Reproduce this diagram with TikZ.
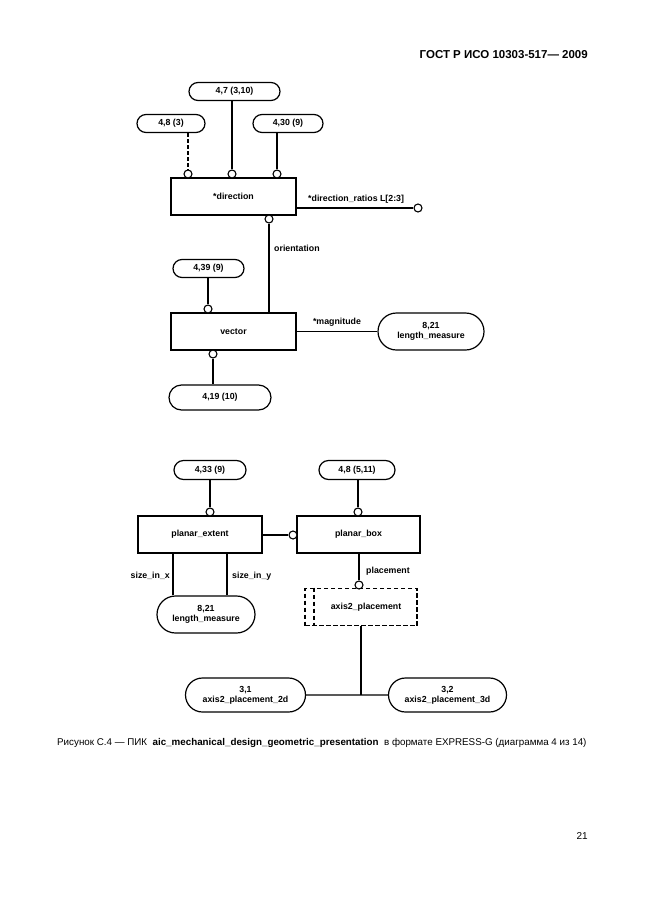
\documentclass[tikz,border=0pt]{standalone}
\usepackage{fontspec}
\setmainfont{Liberation Sans}
\usetikzlibrary{shapes.misc}

\begin{document}
\begin{tikzpicture}[x=1pt,y=-1pt,
        txt/.style={font=\fontsize{8.8}{10}\selectfont\bfseries},
        ent/.style={txt, draw, line width=1.2pt, minimum width=125pt, minimum height=37pt},
        ref/.style={txt, draw, rounded rectangle, line width=1.2pt, minimum height=18pt, inner sep=1pt, align=center},
        ring/.style={circle, draw, fill=white, line width=1.1pt, inner sep=0pt, minimum size=8pt},
        lbl/.style={txt, inner sep=1pt},
        rel/.style={line width=1.3pt},
        fat/.style={line width=2.6pt}]
    \useasboundingbox (0,0) rectangle (646,913);

    \node[font=\fontsize{11.5}{13}\selectfont\bfseries, anchor=east, inner sep=0pt] (head) at (588,55) {ГОСТ Р ИСО 10303-517— 2009};

    % direction and vector
    \node[ref, minimum width=93pt] (r47) at (234.5,91.5) {4,7 (3,10)};
    \node[ref, minimum width=70pt] (r48) at (171,123.5) {4,8 (3)};
    \node[ref, minimum width=72pt] (r430) at (288,123.5) {4,30 (9)};
    \node[ent] (dir) at (233.5,196.5) {*direction};
    \node[ring] (d1) at (188,174) {};
    \node[ring] (d2) at (232,174) {};
    \node[ring] (d3) at (277,174) {};
    \draw[rel, dash pattern=on 4pt off 2pt] (r48.south -| d1) -- (d1);
    \draw[rel] (r47.south -| d2) -- (d2);
    \draw[fat] (r430.south -| d3) -- (d3);
    \node[ring] (dr) at (418,208) {};
    \draw[rel] (dir.east |- dr) -- (dr);
    \node[lbl, anchor=south west] (drl) at (307,205) {*direction\_ratios L[2:3]};

    \node[ref, minimum width=73pt] (r439) at (208.5,268.5) {4,39 (9)};
    \node[ent] (vec) at (233.5,331.5) {vector};
    \node[ring] (d4) at (269,219) {};
    \draw[rel] (d4) -- (d4 |- vec.north);
    \node[lbl, anchor=west] (orl) at (273,248) {orientation};
    \node[ring] (v1) at (208,309) {};
    \draw[fat] (r439.south -| v1) -- (v1);
    \node[ref, minimum width=108pt, minimum height=37pt] (lm1) at (431,331.5) {8,21\\length\_measure};
    \draw[rel] (vec) -- (lm1) node[lbl, midway, above=3pt] (mgl) {*magnitude};
    \node[ring] (v2) at (213,354) {};
    \node[ref, minimum width=104pt, minimum height=25pt] (r419) at (220,397.5) {4,19 (10)};
    \draw[rel] (v2) -- (v2 |- r419.north);

    % planar_extent and planar_box
    \node[ref, minimum width=74pt, minimum height=19pt] (r433) at (210,470) {4,33 (9)};
    \node[ref, minimum width=78pt, minimum height=19pt] (r48b) at (357,470) {4,8 (5,11)};
    \node[ent, minimum width=124pt] (pe) at (200,534.5) {planar\_extent};
    \node[ent, minimum width=123pt] (pb) at (358.5,534.5) {planar\_box};
    \node[ring] (e1) at (210,512) {};
    \draw[fat] (r433.south -| e1) -- (e1);
    \node[ring] (b1) at (358,512) {};
    \draw[fat] (r48b.south -| b1) -- (b1);
    \node[ring] (b2) at (293,535) {};
    \draw[fat] (pe.east |- b2) -- (b2);
    \node[ref, minimum width=100pt, minimum height=37pt] (lm2) at (206,614.5) {8,21\\length\_measure};
    \coordinate (sx) at (173,553);
    \coordinate (sy) at (227,553);
    \draw[rel] (sx) -- (sx |- lm2.north);
    \draw[rel] (sy) -- (sy |- lm2.north);
    \node[lbl, anchor=east] (sxl) at (171,576) {size\_in\_x};
    \node[lbl, anchor=west] (syl) at (231,576) {size\_in\_y};
    \node[ring] (b3) at (359,585) {};
    \draw[rel] (pb.south -| b3) -- (b3);
    \node[lbl, anchor=west] (pll) at (365,571) {placement};
    \node[ent, line width=1.7pt, dash pattern=on 4.5pt off 2.5pt, minimum width=112pt] (ax) at (361,607) {\hspace*{10pt}axis2\_placement};
    \draw[line width=1.7pt, dash pattern=on 4.5pt off 2.5pt] ([xshift=10pt]ax.north west) -- ([xshift=10pt]ax.south west);
    \node[ref, minimum width=122pt, minimum height=34pt] (r31) at (245.5,695) {3,1\\axis2\_placement\_2d};
    \node[ref, minimum width=120pt, minimum height=34pt] (r32) at (447.5,695) {3,2\\axis2\_placement\_3d};
    \coordinate (jn) at (ax.south |- r31.east);
    \draw[rel] (ax.south) -- (jn);
    \draw[rel] (r31) -- (r32);

    \node[font=\fontsize{9.8}{11}\selectfont, anchor=west, inner sep=0pt] (cap) at (57,743) {Рисунок С.4 — ПИК \ \textbf{aic\_mechanical\_design\_geometric\_presentation} \ в формате EXPRESS-G (диаграмма 4 из 14)};
    \node[font=\fontsize{10}{12}\selectfont, anchor=east, inner sep=0pt] (pg) at (588,836) {21};
\end{tikzpicture}
\end{document}
